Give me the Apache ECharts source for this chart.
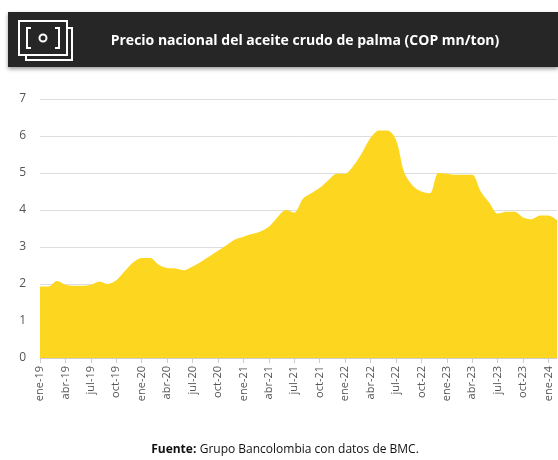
<!DOCTYPE html>
<html><head><meta charset="utf-8">
<script src="https://cdn.jsdelivr.net/npm/echarts@6/dist/echarts.min.js"></script>
<style>html,body{margin:0;padding:0;background:#fff}#c{width:558px;height:460px}</style>
</head><body><div id="c"></div>
<script>
const monthNames = ['ene','feb','mar','abr','may','jun','jul','ago','sep','oct','nov','dic'];
const categories = [];
for (let y = 19; y <= 24; y++) for (let m = 0; m < 12; m++) { if (y === 24 && m > 1) break; categories.push(monthNames[m] + '-' + y); }
const prices = [1.93,1.93,2.08,1.98,1.95,1.95,1.98,2.07,2.0,2.1,2.35,2.58,
2.7,2.7,2.52,2.43,2.42,2.37,2.47,2.6,2.75,2.9,3.05,3.2,
3.28,3.35,3.42,3.55,3.8,4.0,3.93,4.3,4.45,4.6,4.8,4.98,
4.98,5.2,5.55,5.95,6.15,6.15,5.9,5.0,4.65,4.5,4.45,5.0,
4.98,4.95,4.95,4.95,4.5,4.2,3.9,3.95,3.95,3.8,3.75,3.85,
3.85,3.72];
const title = 'Precio nacional del aceite crudo de palma (COP mn/ton)';
const chart = echarts.init(document.getElementById('c'));
chart.setOption({
  animation:false,
  graphic:[
    {type:'rect',shape:{x:8,y:12,width:550,height:55},style:{fill:'#262626',shadowBlur:4,shadowColor:'rgba(0,0,0,0.4)',shadowOffsetY:2}},
    {type:'polyline',shape:{points:[[68,28],[72,28],[72,60],[26,60],[26,56]]},style:{fill:'none',stroke:'#fff',lineWidth:2}},
    {type:'rect',shape:{x:19,y:21,width:48,height:34},style:{fill:'#262626',stroke:'#fff',lineWidth:2}},
    {type:'polyline',shape:{points:[[31,28],[27,28],[27,48],[31,48]]},style:{fill:'none',stroke:'#fff',lineWidth:2}},
    {type:'polyline',shape:{points:[[55,28],[59,28],[59,48],[55,48]]},style:{fill:'none',stroke:'#fff',lineWidth:2}},
    {type:'circle',shape:{cx:43,cy:38,r:3.5},style:{fill:'none',stroke:'#fff',lineWidth:2}},
    {type:'text',x:305,y:41,style:{text:title,fill:'#fff',font:'bold 14px "Open Sans"',align:'center',verticalAlign:'middle'}},
    {type:'text',x:285,y:450,style:{rich:{b:{font:'bold 12px "Open Sans"',fill:'#111'},n:{font:'12px "Open Sans"',fill:'#111'}},text:'{b|Fuente:} {n|Grupo Bancolombia con datos de BMC.}',align:'center',verticalAlign:'middle'}}
  ],
  grid:{left:40,right:1,top:99,bottom:102},
  xAxis:{type:'category',data:categories,boundaryGap:false,
    axisLine:{lineStyle:{color:'#ccc'}},
    axisTick:{interval:2,lineStyle:{color:'#ccc'}},
    axisLabel:{interval:2,rotate:90,color:'#555',fontSize:11,fontFamily:'Open Sans'}},
  yAxis:{type:'value',min:0,max:7,interval:1,
    axisLabel:{color:'#555',fontSize:12,fontFamily:'Open Sans',margin:14},
    splitLine:{lineStyle:{color:'#ddd'}}},
  series:[{type:'line',data:prices,symbol:'none',smooth:0.3,lineStyle:{width:0},areaStyle:{color:'#FDD71F',opacity:1}}]
});
</script></body></html>
